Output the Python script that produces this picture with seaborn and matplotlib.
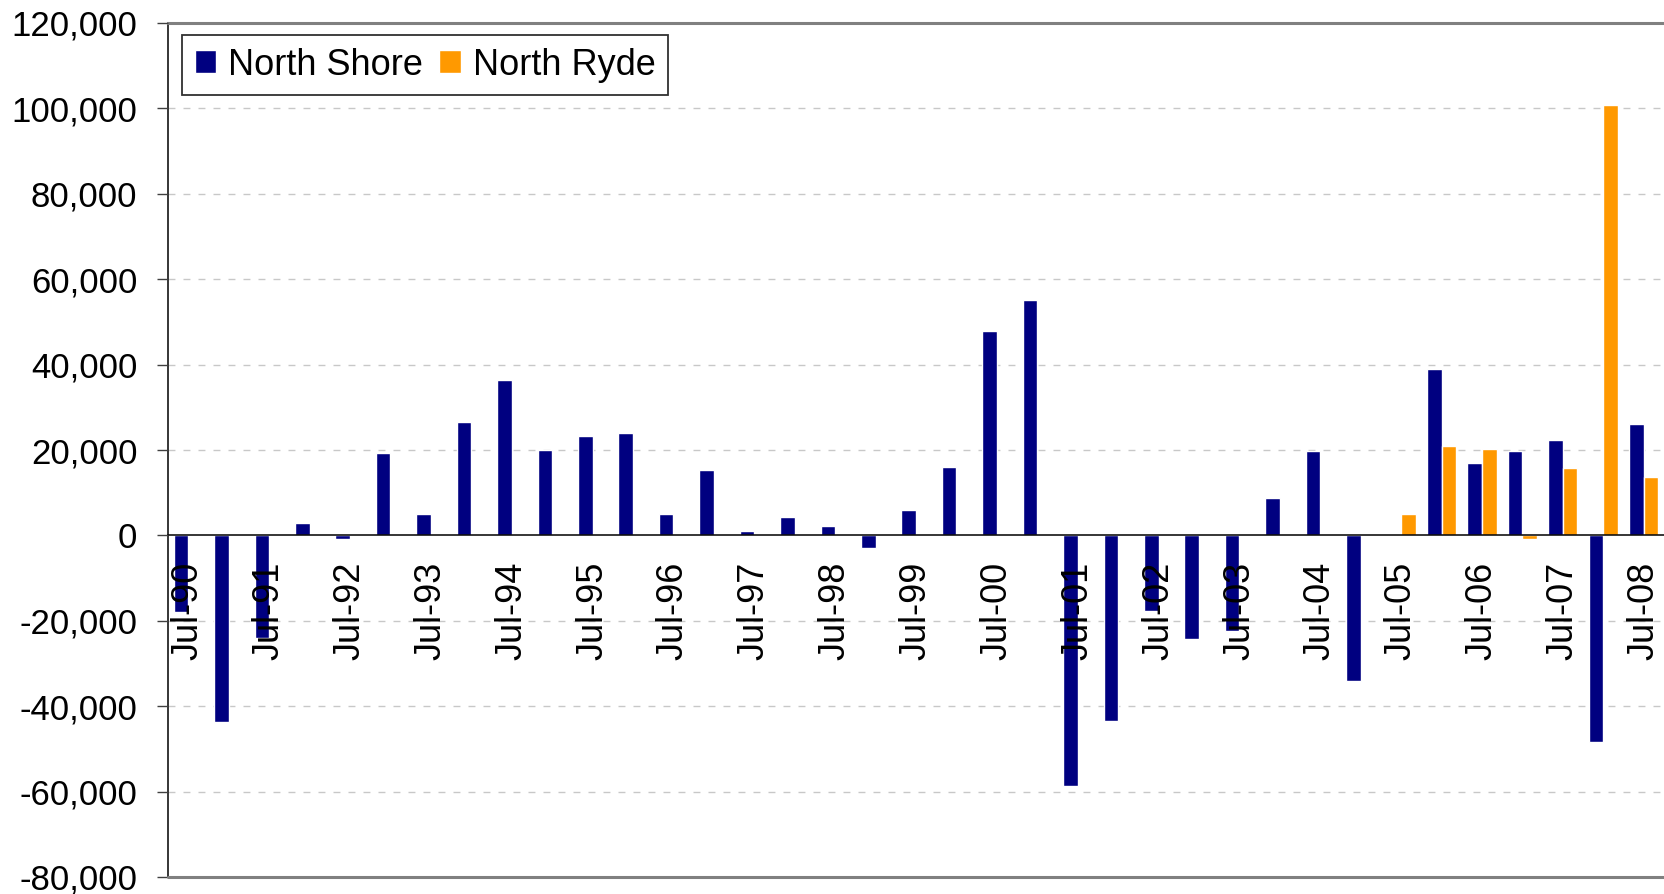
import numpy as np
import pandas as pd
import matplotlib
matplotlib.use("Agg")
import matplotlib.pyplot as plt
from matplotlib.ticker import FuncFormatter, FixedLocator
import seaborn as sns

# half-yearly periods
periods = ["Jul-90", "Jan-91", "Jul-91", "Jan-92", "Jul-92", "Jan-93", "Jul-93", "Jan-94",
           "Jul-94", "Jan-95", "Jul-95", "Jan-96", "Jul-96", "Jan-97", "Jul-97", "Jan-98",
           "Jul-98", "Jan-99", "Jul-99", "Jan-00", "Jul-00", "Jan-01", "Jul-01", "Jan-02",
           "Jul-02", "Jan-03", "Jul-03", "Jan-04", "Jul-04", "Jan-05", "Jul-05", "Jan-06",
           "Jul-06", "Jan-07", "Jul-07", "Jan-08", "Jul-08"]

north_shore = [-18000, -43800, -24000, 3000, -900, 19300, 5000, 26600, 36500, 20100,
               23300, 24000, 5000, 15400, 1000, 4300, 2300, -3000, 6000, 16000,
               47800, 55100, -58700, -43500, -17700, -24300, -22300, 8700, 19700, -34100,
               np.nan, 39000, 17000, 19700, 22300, -48300, 26200]

north_ryde = [np.nan] * 30 + [5000, 21000, 20300, -900, 15700, 100900, 13600]

regions = ["North Shore", "North Ryde"]
colors = ["#000080", "#FF9900"]
yticks = np.arange(-80000, 120001, 20000)

df = pd.DataFrame({
    "period": periods * 2,
    "region": [regions[0]] * len(periods) + [regions[1]] * len(periods),
    "value": north_shore + north_ryde,
}).dropna()

sns.set_style("white")
plt.rcParams["font.family"] = ["Liberation Sans", "DejaVu Sans"]
for k in ["text.color", "xtick.color", "ytick.color", "axes.labelcolor"]:
    plt.rcParams[k] = "black"

fig = plt.figure(figsize=(16.64, 8.94), dpi=100)
ax = fig.add_axes([168 / 1664, 17 / 894, 1 - 168 / 1664, 854 / 894])

# dashed grid behind the bars
for v in yticks[1:-1]:
    if v != 0:
        ax.axhline(v, linestyle=(0, (5, 5.8)), color="#C8C8C8", linewidth=1, zorder=0.5)

sns.barplot(data=df, x="period", y="value", hue="region", order=periods,
            hue_order=regions, palette=colors, width=0.72, saturation=1,
            errorbar=None, ax=ax, zorder=2)

# tick labels sit on top of the bars
ax.set_axisbelow(False)

ax.set_xlim(-0.5, len(periods) - 0.5)
ax.set_ylim(-80000, 120000)
ax.set_yticks(yticks)
ax.yaxis.set_major_formatter(FuncFormatter(lambda v, p: f"{v:,.0f}"))
ax.set_xlabel("")
ax.set_ylabel("")

# axis line at zero, frame lines
ax.spines["bottom"].set_position(("data", 0))
ax.spines["bottom"].set_color("black")
ax.spines["bottom"].set_linewidth(1.1)
ax.spines["left"].set_color("black")
ax.spines["left"].set_linewidth(1.1)
ax.spines["right"].set_visible(False)
ax.spines["top"].set_color("#808080")
ax.spines["top"].set_linewidth(2.2)
ax.axhline(-80000, color="#808080", linewidth=2.2, clip_on=False, zorder=3)

# x labels only on July, tick marks between categories
jul_pos = [i for i, p in enumerate(periods) if p.startswith("Jul")]
ax.set_xticks(jul_pos)
ax.set_xticklabels([periods[i] for i in jul_pos], rotation=90, fontsize=26)
ax.xaxis.set_minor_locator(FixedLocator(np.arange(0.5, len(periods) - 0.5, 1)))
ax.tick_params(axis="x", which="major", length=0, pad=19)
ax.tick_params(axis="x", which="minor", length=8, width=1, color="#404040",
               direction="out")
ax.tick_params(axis="y", length=8, width=1, color="#404040", direction="out",
               labelsize=25, pad=14, left=True)

sns.move_legend(ax, "upper left", bbox_to_anchor=(14 / 1496, 842 / 854),
                borderaxespad=0, ncol=2, title=None, frameon=True, fancybox=False,
                fontsize=26, handlelength=0.6, handleheight=0.6,
                handletextpad=0.33, columnspacing=0.45, borderpad=0.35,
                edgecolor="#303030", framealpha=1)
ax.get_legend().get_frame().set_linewidth(1.3)

fig.savefig("out.png", dpi=100)
